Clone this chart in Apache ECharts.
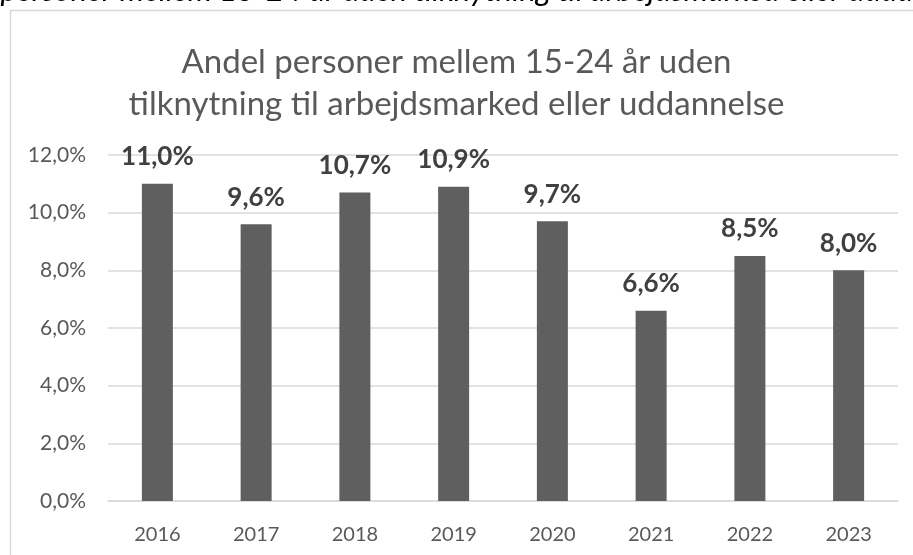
<!DOCTYPE html>
<html>
<head>
<meta charset="utf-8">
<script src="https://cdn.jsdelivr.net/npm/echarts@6/dist/echarts.min.js"></script>
<style>
  html, body { margin: 0; padding: 0; background: #fff; }
  #container { width: 913px; height: 555px; }
</style>
</head>
<body>
<div id="container"></div>
<script>
var years = ['2016', '2017', '2018', '2019', '2020', '2021', '2022', '2023'];
var shares = [11.0, 9.6, 10.7, 10.9, 9.7, 6.6, 8.5, 8.0];
var titleLines = ['Andel personer mellem 15-24 år uden', 'tilknytning til arbejdsmarked eller uddannelse'];
var headerText = 'Andel personer mellem 15-24 år uden tilknytning til arbejdsmarked eller uddannelse';

function pct(v) {
	return v.toFixed(1).replace('.', ',') + '%';
}

window.onload = function () {
	var myChart = echarts.init(document.getElementById('container'));
	var font = 'Lato, "Open Sans", sans-serif';
	myChart.setOption({
		animation: false,
		textStyle: { fontFamily: font },
		graphic: [
			{
				type: 'rect',
				shape: { x: 10.5, y: 10.5, width: 1000, height: 1000 },
				style: { fill: 'none', stroke: '#d9d9d9', lineWidth: 1.5 }
			},
			{
				type: 'text',
				x: -81,
				y: -9,
				style: {
					text: headerText,
					font: 'italic 31px ' + font,
					fill: '#000',
					verticalAlign: 'middle'
				}
			}
		],
		title: {
			text: titleLines.join('\n'),
			left: 'center',
			top: 36,
			textStyle: {
				fontFamily: font,
				fontWeight: 'normal',
				fontSize: 33,
				lineHeight: 42,
				color: '#595959'
			}
		},
		grid: { left: 108, right: 15, top: 155, bottom: 54 },
		xAxis: {
			type: 'category',
			data: years,
			axisLine: { lineStyle: { color: '#d9d9d9', width: 1.5 } },
			axisTick: { show: false },
			axisLabel: { color: '#595959', fontSize: 20, margin: 24 }
		},
		yAxis: {
			type: 'value',
			min: 0,
			max: 12,
			interval: 2,
			axisLine: { show: false },
			axisTick: { show: false },
			splitLine: { lineStyle: { color: '#d9d9d9', width: 1.5 } },
			axisLabel: {
				color: '#595959',
				fontSize: 21,
				margin: 22,
				formatter: function (v) { return pct(v); }
			}
		},
		series: [{
			type: 'bar',
			data: shares,
			barWidth: 31,
			itemStyle: { color: '#5f5f5f' },
			label: {
				show: true,
				position: 'top',
				distance: 14,
				color: '#404040',
				fontSize: 26,
				fontWeight: 'bold',
				formatter: function (p) { return pct(p.value); }
			}
		}]
	});
};
</script>
</body>
</html>
